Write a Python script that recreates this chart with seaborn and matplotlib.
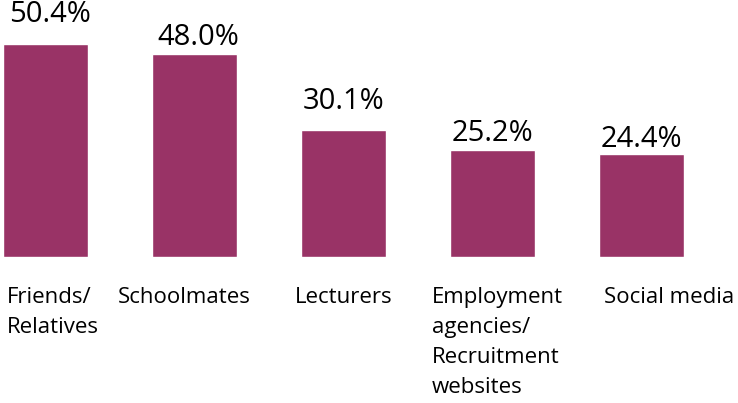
import matplotlib
matplotlib.use("Agg")
import matplotlib.pyplot as plt
import seaborn as sns
import pandas as pd

# data
categories = ["Friends/\nRelatives", "Schoolmates", "Lecturers",
              "Employment\nagencies/\nRecruitment\nwebsites", "Social media"]
shares = [50.4, 48.0, 30.1, 25.2, 24.4]
value_labels = ["50.4%", "48.0%", "30.1%", "25.2%", "24.4%"]

# label placement (tuned to the reference layout)
label_dx = [-0.258, -0.513, -0.326, -0.406, -0.252]
value_dy = [21, 12, 20, 12, 10]
value_dx = [3, 3, 0, 0, 0]

bar_color = "#993366"

sns.set_style("white")
plt.rcParams["font.family"] = ["Open Sans", "DejaVu Sans"]

df = pd.DataFrame({"cat": categories, "share": shares})

fig = plt.figure(figsize=(7.38, 4.03), dpi=100)
ax = fig.add_axes([0, 0.3623, 1, 0.6377])

sns.barplot(data=df, x="cat", y="share", hue="cat", palette=[bar_color] * len(df),
            legend=False, width=0.57, saturation=1, ax=ax)

ax.set_xlim(-0.305, 4.648)
ax.set_ylim(0, 60.8)
ax.axis("off")

for i, (v, lab) in enumerate(zip(shares, value_labels)):
    ax.annotate(lab, (i, v), xytext=(value_dx[i], value_dy[i]), textcoords="offset points",
                ha="center", va="center", fontsize=21, color="black")

for i, cat in enumerate(categories):
    ax.text(i + label_dx[i], -7.2, cat, ha="left", va="top", fontsize=16,
            linespacing=1.56, color="black")

fig.savefig("out.png", dpi=100)
